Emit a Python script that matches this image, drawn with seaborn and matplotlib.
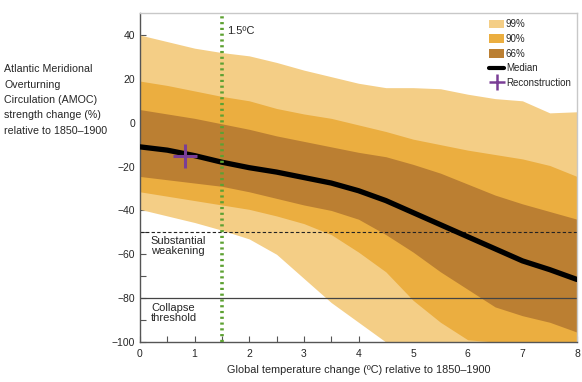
import numpy as np
import pandas as pd
import seaborn as sns
import matplotlib.pyplot as plt
from matplotlib.patches import Patch
from matplotlib.lines import Line2D

# global warming levels (degC above 1850-1900)
warming = [0, 0.5, 1, 1.5, 2, 2.5, 3, 3.5, 4, 4.5, 5, 5.5, 6, 6.5, 7, 7.5, 8]

# AMOC strength change (%)
median = [-11, -12.5, -15, -18, -20.5, -22.5, -25, -27.5, -31, -35.5, -41, -46.5, -52, -57.5, -63, -67, -71.5]
upper_66 = [6, 4, 2, -0.5, -3, -6, -8.5, -11, -13.5, -15.5, -19, -23, -28, -33, -37, -40.5, -44]
lower_66 = [-24.5, -26, -27.5, -29, -31.5, -34.5, -37.5, -40, -44, -51, -59, -68, -76, -84, -88, -91, -95.5]
upper_90 = [19, 17, 14.5, 12, 10, 6.5, 4, 2, -1, -4, -7.5, -10, -12.5, -14.5, -16.5, -19.5, -24.5]
lower_90 = [-31.5, -33.5, -35.5, -37.5, -39.5, -42.5, -46, -51, -59, -68, -81, -91, -99, -100, -100, -100, -100]
upper_99 = [40, 37, 34, 32, 30.5, 27.5, 24, 21, 18, 16, 16, 15.5, 13, 11, 10, 4.5, 5]
lower_99 = [-39.5, -42.5, -45.5, -49, -53, -60, -71, -82, -91, -100, -100, -100, -100, -100, -100, -100, -100]

recon_x = [0.82]
recon_y = [-15]

band_labels = ['99%', '90%', '66%']
band_colors = ['#F4CE86', '#EBAE40', '#BB7F32']

df = pd.DataFrame({'warming': warming, 'median': median})

sns.set_theme(style='ticks')
plt.rcParams['font.family'] = ['Liberation Sans', 'DejaVu Sans']

fig = plt.figure(figsize=(5.82, 3.82), dpi=100)
ax = fig.add_axes([0.2405, 0.1047, 0.751, 0.861])

bands = [(lower_99, upper_99), (lower_90, upper_90), (lower_66, upper_66)]
for (lo, hi), col in zip(bands, band_colors):
    ax.fill_between(warming, lo, hi, color=col, lw=0, zorder=1)

# reference lines
ax.axhline(-50, color='#222222', lw=0.8, ls=(0, (3, 2)), zorder=2)
ax.axhline(-80, color='#444444', lw=0.9, zorder=2)
ax.axvline(1.5, color='#5DA132', lw=2.6, ls=(0, (0.6, 1.0)), zorder=4)

sns.lineplot(data=df, x='warming', y='median', color='black', lw=3.8, ax=ax, zorder=3)
ax.plot(recon_x, recon_y, marker='+', color='#7A3E96', ms=17, mew=2.2, ls='none', zorder=5)

ax.text(1.6, 42, '1.5ºC', fontsize=8, va='center', ha='left')
ax.text(0.2, -51.5, 'Substantial\nweakening', fontsize=8, va='top', ha='left', linespacing=1.1)
ax.text(0.2, -82, 'Collapse\nthreshold', fontsize=8, va='top', ha='left', linespacing=1.1)

ax.set_xlim(0, 8)
ax.set_ylim(-100, 50)
ax.set_xticks(range(0, 9))
ax.set_xticks(np.arange(0, 8.01, 0.5), minor=True)
ax.set_yticks(range(-100, 41, 20))
ax.set_yticks(range(-100, 41, 10), minor=True)
ax.tick_params(axis='both', which='both', direction='in', labelsize=7.5, color='#555555')
ax.tick_params(axis='both', which='major', length=4, width=0.8)
ax.tick_params(axis='both', which='minor', length=4, width=0.8)
ax.tick_params(axis='x', pad=5)
ax.set_xlabel('Global temperature change (ºC) relative to 1850–1900', fontsize=7.8, labelpad=4)
ax.set_ylabel('')

for side in ['left', 'bottom']:
    ax.spines[side].set_color('#555555')
    ax.spines[side].set_linewidth(1.0)
for side in ['top', 'right']:
    ax.spines[side].set_visible(True)
    ax.spines[side].set_color('#c8c8c8')
    ax.spines[side].set_linewidth(1.0)

fig.text(0.007, 0.832,
         'Atlantic Meridional\nOverturning\nCirculation (AMOC)\nstrength change (%)\nrelative to 1850–1900',
         fontsize=7.7, va='top', ha='left', linespacing=1.68)

handles = [Patch(facecolor=c, edgecolor='none', label=l) for l, c in zip(band_labels, band_colors)]
handles.append(Line2D([], [], color='black', lw=3, label='Median'))
handles.append(Line2D([], [], color='#7A3E96', marker='+', ms=12, mew=1.8, ls='none', label='Reconstruction'))
ax.legend(handles=handles, loc='upper right', bbox_to_anchor=(1.0, 1.0), frameon=False,
          fontsize=7, handlelength=1.6, handleheight=1.0, handletextpad=0.15,
          labelspacing=0.48, borderaxespad=0.25)

fig.savefig('out.png', dpi=100)
